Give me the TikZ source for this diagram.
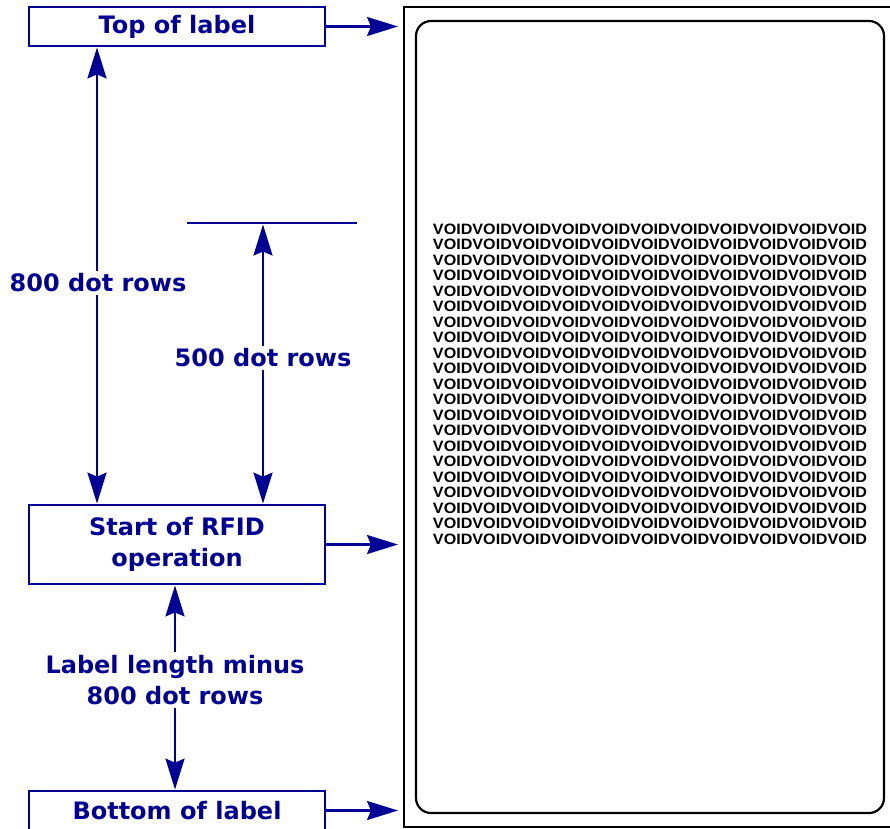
\documentclass[tikz,border=0pt]{standalone}
\usepackage{fontspec}
\setmainfont{Liberation Sans}
\newfontfamily\lblfont{DejaVu Sans}
\usetikzlibrary{arrows.meta}
\definecolor{navy}{RGB}{0,0,150}
\tikzset{
  lbl/.style={font=\lblfont\fontsize{24}{31}\selectfont\bfseries, text=navy, align=center},
  box/.style={draw=navy, line width=2.8pt, minimum width=296pt, inner sep=0pt, lbl},
  conn/.style={draw=navy, line width=2.4pt, -{Stealth[length=31pt,width=19pt,inset=4pt]}},
  dbl/.style={draw=navy, line width=2.4pt, {Stealth[length=31pt,width=19pt,inset=4pt]}-{Stealth[length=31pt,width=19pt,inset=4pt]}},
  gap/.style={lbl, fill=white, inner sep=3pt},
  voidrow/.style={inner sep=0pt, anchor=north},
}
\begin{document}
\begin{tikzpicture}[x=1pt,y=-1pt]
\useasboundingbox (0,0) rectangle (890,828);
\clip (0,0) rectangle (890,828);
% label stock
\draw[black, line width=1.6pt] (404,7) rectangle (900,827);
\draw[black, line width=2.2pt, rounded corners=15pt] (416,21) rectangle (884,813);
\foreach \i in {0,...,20}
  \node[voidrow] (v\i) at (650,223.5+15.5*\i)
    {\resizebox{434pt}{10.5pt}{\bfseries VOIDVOIDVOIDVOIDVOIDVOIDVOIDVOIDVOIDVOIDVOID}};
% boxes
\node[box, minimum height=39pt] (top) at (177,26.5) {Top of label};
\node[box, minimum height=79pt] (rfid) at (177,544.5) {Start of RFID\\operation};
\node[box, minimum height=39pt] (bot) at (177,810.5) {Bottom of label};
% arrows to the label
\coordinate (t1) at (398,26.5);
\coordinate (t2) at (398,544.5);
\coordinate (t3) at (398,810.5);
\draw[conn] (top.east) -- (t1);
\draw[conn] (rfid.east) -- (t2);
\draw[conn] (bot.east) -- (t3);
% 800 dot rows
\coordinate (a800) at (97,0);
\draw[dbl] (top.south -| a800) -- (rfid.north -| a800);
\node[gap] (l800) at (98,283) {800 dot rows};
% 500 dot rows
\coordinate (h1) at (187,223);
\coordinate (h2) at (357,223);
\coordinate (h5) at (263,224.5);
\draw[navy, line width=2.4pt] (h1) -- (h2);
\draw[dbl] (h5) -- (rfid.north -| h5);
\node[gap] (l500) at (263,358) {500 dot rows};
% label length minus 800
\coordinate (lx) at (175,0);
\draw[dbl] (rfid.south -| lx) -- (bot.north -| lx);
\node[gap] (lrest) at (175,680) {Label length minus\\800 dot rows};
\end{tikzpicture}
\end{document}
